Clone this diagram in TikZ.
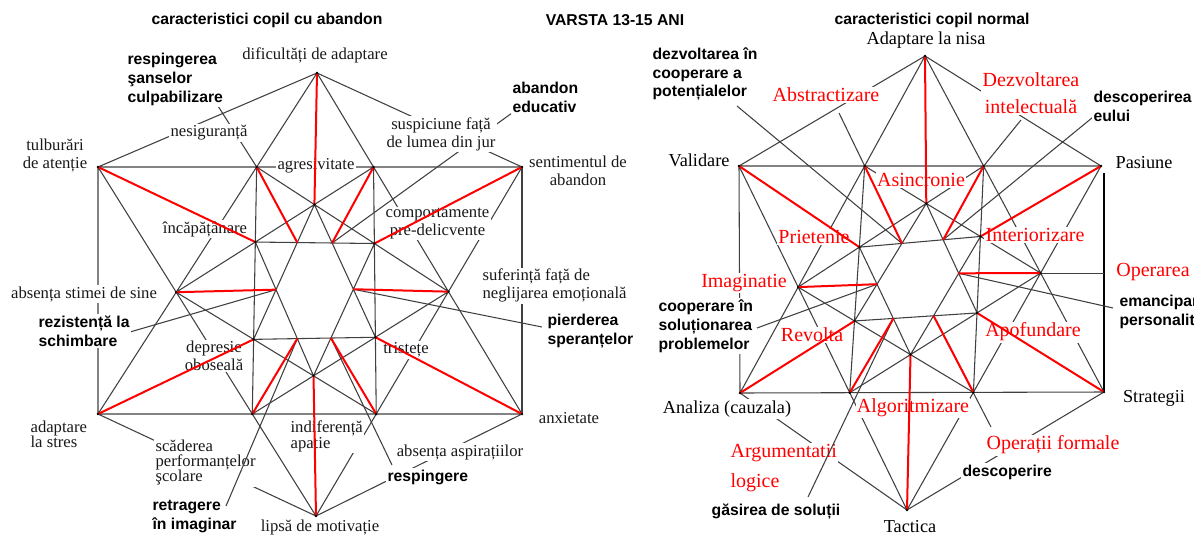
\documentclass[tikz,border=0pt]{standalone}
\usepackage{fontspec}
\setmainfont{Liberation Serif}
\setsansfont{Liberation Sans}

\newcommand\mkstar[1]{%
\coordinate (#1A) at (intersection of #1T--#1BLo and #1TL--#1TR);
\coordinate (#1Bp) at (intersection of #1T--#1BRo and #1TL--#1TR);
\coordinate (#1ML) at (intersection of #1T--#1BLo and #1TL--#1B);
\coordinate (#1MR) at (intersection of #1T--#1BRo and #1TR--#1B);
\coordinate (#1BL) at (intersection of #1TL--#1B and #1BLo--#1BRo);
\coordinate (#1BR) at (intersection of #1TR--#1B and #1BLo--#1BRo);
\coordinate (#1CA) at (intersection of #1ML--#1Bp and #1MR--#1A);
\coordinate (#1CB) at (intersection of #1ML--#1BR and #1MR--#1BL);
\coordinate (#1HA) at (intersection of #1ML--#1Bp and #1A--#1BL);
\coordinate (#1HD) at (intersection of #1MR--#1A and #1Bp--#1BR);
\coordinate (#1LA) at (intersection of #1ML--#1BR and #1A--#1BL);
\coordinate (#1LD) at (intersection of #1MR--#1BL and #1Bp--#1BR);
\coordinate (#1HB) at (intersection of #1CA--#1LA and #1HA--#1HD);
\coordinate (#1HC) at (intersection of #1CA--#1LD and #1HA--#1HD);
\coordinate (#1LB) at (intersection of #1CB--#1HA and #1LA--#1LD);
\coordinate (#1LC) at (intersection of #1CB--#1HD and #1LA--#1LD);
\coordinate (#1MA) at (intersection of #1CA--#1LA and #1CB--#1HA);
\coordinate (#1MB) at (intersection of #1CA--#1LD and #1CB--#1HD);
}
\newcommand\blackstar[1]{%
\draw[ln] (#1TL)--(#1TR) (#1BLo)--(#1BRo) (#1TL)--(#1BLo)
 (#1T)--(#1TL) (#1T)--(#1TR) (#1B)--(#1BLo) (#1B)--(#1BRo)
 (#1A)--(#1BL) (#1Bp)--(#1BR)
 (#1T)--(#1BLo) (#1T)--(#1BRo) (#1TL)--(#1B) (#1TR)--(#1B)
 (#1ML)--(#1Bp) (#1MR)--(#1A) (#1ML)--(#1BR) (#1MR)--(#1BL)
 (#1CA)--(#1LA)--(#1LD)--cycle (#1CB)--(#1HA)--(#1HD)--cycle;
}
\newcommand\redstar[1]{%
\draw[rd] (#1T)--(#1CA) (#1CB)--(#1B) (#1TL)--(#1HA) (#1TR)--(#1HD)
 (#1BLo)--(#1LA) (#1BRo)--(#1LD) (#1ML)--(#1MA) (#1MR)--(#1MB)
 (#1A)--(#1HB) (#1Bp)--(#1HC) (#1BL)--(#1LB) (#1BR)--(#1LC);
\foreach \p in {T,TL,TR,BLo,BRo,B,A,Bp,ML,MR,BL,BR,CA,CB,HA,HD,LA,LD}
 \fill[black] (#1\p) circle (1.3);
}

\begin{document}
\begin{tikzpicture}[x=0.75pt,y=-0.75pt,
 ln/.style={draw=black!75, line width=0.8pt},
 rd/.style={draw=red, line width=1.5pt},
 lab/.style={fill=white, inner sep=1pt, text=black!90, align=center,
   font=\fontsize{12.5}{13.5}\selectfont},
 labt/.style={lab, font=\fontsize{12.5}{11.5}\selectfont},
 blab/.style={fill=white, inner sep=1pt, align=left,
   font=\sffamily\bfseries\fontsize{11.8}{14.2}\selectfont},
 ttl/.style={inner sep=0pt, font=\sffamily\bfseries\fontsize{11.8}{14}\selectfont},
 rlab/.style={fill=white, inner sep=1pt, text=red, align=center,
   font=\fontsize{15}{20}\selectfont},
 nlab/.style={fill=white, inner sep=1pt, align=center,
   font=\fontsize{13.7}{15}\selectfont}]
\useasboundingbox (0,0) rectangle (1194,535);
\clip (0,0) rectangle (1194,535);

% outer vertices
\coordinate (aT) at (317,73);   \coordinate (aTL) at (98,167);
\coordinate (aTR) at (522,167); \coordinate (aBLo) at (98,414);
\coordinate (aBRo) at (522,414); \coordinate (aB) at (316,516);
\coordinate (bT) at (925,56);   \coordinate (bTL) at (739,166);
\coordinate (bTR) at (1101,166); \coordinate (bBLo) at (740,393);
\coordinate (bBRo) at (1104,392); \coordinate (bB) at (907,510);
\mkstar{a}
\mkstar{b}

% black construction
\blackstar{a}
\blackstar{b}
\draw[ln] (aTR)--(aBRo);
\coordinate (bVt) at (1104,173);
\draw[draw=black, line width=1.5pt] (bVt)--(bBRo);
\draw[ln] (bMR)--(bMR -| bBRo);

% leader lines (left)
\coordinate (q1) at (218,106); \draw[ln] (q1)--(aA);
\coordinate (q2) at (512,113); \draw[ln] (q2)--(aHC);
\coordinate (q3) at (123,334); \draw[ln] (q3)--(aMA);
\coordinate (q4) at (542,327); \draw[ln] (q4)--(aMB);
\coordinate (q6) at (392,465); \draw[ln] (q6)--(aLC);
% leader lines (right)
\coordinate (r1) at (737,106); \draw[ln] (r1)--(bHB);
\coordinate (r2) at (839,113); \draw[ln] (r2)--(bA);
\coordinate (r3) at (1021,120); \draw[ln] (r3)--(bBp);
\coordinate (r4) at (1098,113); \draw[ln] (r4)--(bHC);
\coordinate (r5) at (757,328); \draw[ln] (r5)--(bMA);
\coordinate (r6) at (1113,308); \draw[ln] (r6)--(bMB);
\coordinate (r8) at (991,427); \draw[ln] (r8)--(bLC);

% titles
\node[ttl] (t1) at (267,20) {caracteristici copil cu abandon};
\node[ttl] (t2) at (615,20) {VARSTA 13-15 ANI};
\node[ttl] (t3) at (932,20) {caracteristici copil normal};

% left labels
\node[lab] (la1) at (315,55) {dificultăți de adaptare};
\node[lab] (la2) at (209,133) {nesiguranță};
\node[lab] (la3) at (441,134) {suspiciune față\\de lumea din jur};
\node[lab] (la4) at (55,155.5) {tulburări\\de atenție};
\node[lab] (la5) at (316,166) {agresivitate};
\node[lab] (la6) at (578,171) {sentimentul de\\abandon};
\node[lab] (la7) at (205,229) {încăpățânare};
\node[lab] (la8) at (437.5,223.5) {comportamente\\pre-delicvente};
\node[lab, anchor=west, align=left] (la9) at (481,285.5) {suferință față de\\neglijarea emoțională};
\node[lab] (la10) at (84,294) {absența stimei de sine};
\node[lab] (la11) at (214,356) {depresie\\oboseală};
\node[lab] (la12) at (406,350) {tristețe};
\node[labt, anchor=west, align=left] (la13) at (29,434.5) {adaptare\\la stres};
\node[labt, anchor=west, align=left] (la14) at (154,462.5) {scăderea\\performanțelor\\şcolare};
\node[labt, anchor=west, align=left] (la15) at (289,436.5) {indiferență\\apatie};
\node[lab] (la16) at (460,452) {absența aspirațiilor};
\node[lab] (la17) at (569,418) {anxietate};
\node[lab] (la18) at (320,527) {lipsă de motivație};

\node[blab, anchor=west] (lb1) at (126,79) {respingerea\\şanselor\\culpabilizare};
\node[blab, anchor=west] (lb2) at (511,97.5) {abandon\\educativ};
\node[blab, anchor=west] (lb3) at (37,331) {rezistență la\\schimbare};
\node[blab, anchor=west] (lb4) at (546,331) {pierderea\\speranțelor};
\node[blab, anchor=west] (lb5) at (151,516.5) {retragere\\în imaginar};
\node[blab, anchor=west] (lb6) at (386,477) {respingere};

% right labels
\node[nlab] (ra1) at (926,40) {Adaptare la nisa};
\node[nlab] (ra2) at (699,160) {Validare};
\node[nlab] (ra3) at (1144,163) {Pasiune};
\node[nlab] (ra4) at (727,409) {Analiza (cauzala)};
\node[nlab] (ra5) at (1154,398) {Strategii};
\node[nlab] (ra6) at (910,527) {Tactica};

\node[rlab] (rr1) at (826,95) {Abstractizare};
\node[rlab, font=\fontsize{15}{20.25}\selectfont] (rr2) at (1031,93.5) {Dezvoltarea\\intelectuală};
\node[rlab] (rr3) at (921,180) {Asincronie};
\node[rlab] (rr4) at (814,237) {Prietenie};
\node[rlab] (rr5) at (1035,235) {Interiorizare};
\node[rlab] (rr6) at (744,283) {Imaginatie};
\node[rlab] (rr7) at (1153,272) {Operarea};
\node[rlab] (rr8) at (812,335) {Revolta};
\node[rlab] (rr9) at (1033,332) {Apofundare};
\node[rlab] (rr10) at (913,408) {Algoritmizare};
\node[rlab, anchor=west, align=left, font=\fontsize{15}{22.5}\selectfont] (rr11) at (729,468) {Argumentatii\\logice};
\node[rlab] (rr12) at (1053,445) {Operații formale};

\node[blab, anchor=west] (rb1) at (651,74) {dezvoltarea în\\cooperare a\\potențialelor};
\node[blab, anchor=west] (rb2) at (1092,106) {descoperirea\\eului};
\node[blab, anchor=west] (rb3) at (657,326) {cooperare în\\soluționarea\\problemelor};
\node[blab, anchor=west] (rb4) at (1118,312.5) {emancipare\\personalității};
\node[blab, anchor=west] (rb5) at (961,472) {descoperire};
\node[blab] (rb6) at (776,512) {găsirea de soluții};

% leaders that cross labels
\coordinate (q5) at (226,506); \draw[ln] (q5)--(aLB);
\coordinate (r7) at (808,497); \draw[ln] (r7)--(bLB);

% red lines on top
\redstar{a}
\redstar{b}
\end{tikzpicture}
\end{document}
